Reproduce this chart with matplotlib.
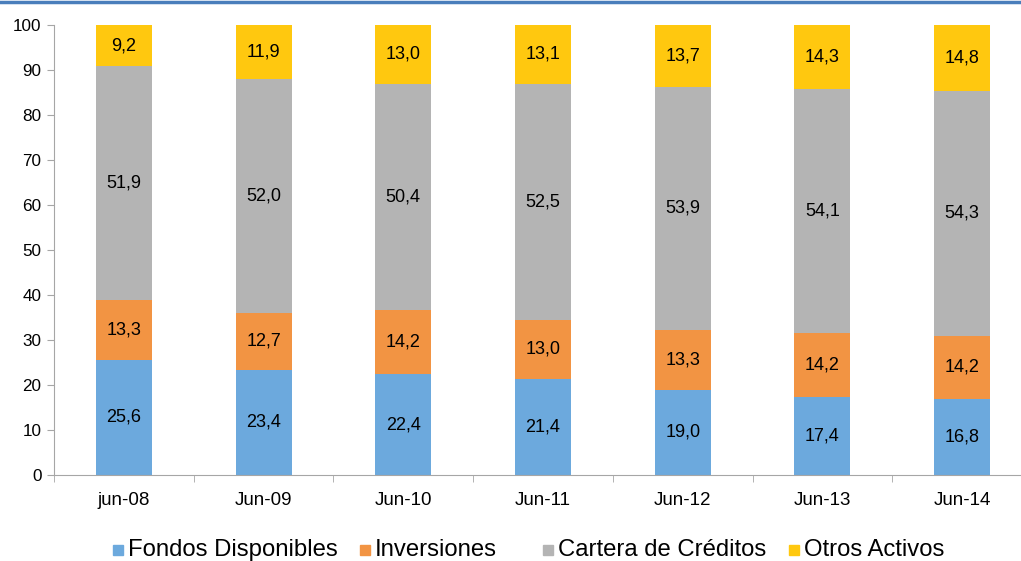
import matplotlib.pyplot as plt
from matplotlib.lines import Line2D
from matplotlib.patches import Rectangle
import numpy as np

plt.rcParams['font.family'] = ['Liberation Sans', 'DejaVu Sans']

periods = ['jun-08', 'Jun-09', 'Jun-10', 'Jun-11', 'Jun-12', 'Jun-13', 'Jun-14']
fondos = [25.6, 23.4, 22.4, 21.4, 19.0, 17.4, 16.8]
inversiones = [13.3, 12.7, 14.2, 13.0, 13.3, 14.2, 14.2]
cartera = [51.9, 52.0, 50.4, 52.5, 53.9, 54.1, 54.3]
otros = [9.2, 11.9, 13.0, 13.1, 13.7, 14.3, 14.8]

names = ['Fondos Disponibles', 'Inversiones', 'Cartera de Créditos', 'Otros Activos']
colors = ['#6CA9DD', '#F29443', '#B4B4B4', '#FFC80F']
values = [fondos, inversiones, cartera, otros]

W, H = 1021, 561
fig = plt.figure(figsize=(W / 100, H / 100), dpi=100)
ax = fig.add_axes([54 / W, 1 - 475 / H, 978 / W, 450 / H])

x = np.arange(len(periods))
bottom = np.zeros(len(periods))
for name, vals, color in zip(names, values, colors):
    vals = np.array(vals)
    ax.bar(x, vals, 0.4, bottom=bottom, color=color, label=name, zorder=2)
    for xi, b, v in zip(x, bottom, vals):
        ax.text(xi, b + v / 2, f'{v:.1f}'.replace('.', ','), ha='center',
                va='center', fontsize=13, color='black')
    bottom += vals

ax.set_xlim(-0.5, len(periods) - 0.5)
ax.set_ylim(0, 100)
ax.set_yticks(range(0, 101, 10))
ax.set_xticks(x)
ax.set_xticklabels(periods)
ax.set_xticks(np.arange(-0.5, len(periods), 1), minor=True)
ax.tick_params(axis='x', which='major', length=0, pad=12, labelsize=13.5)
ax.tick_params(axis='x', which='minor', length=5, color='#A6A6A6')
ax.tick_params(axis='y', length=5, color='#A6A6A6', labelsize=12.3, pad=4)

for side in ['top', 'right']:
    ax.spines[side].set_visible(False)
for side in ['left', 'bottom']:
    ax.spines[side].set_color('#A6A6A6')

# legend laid out by hand: square swatch followed by its label
legend_x = [113, 360, 543, 789]
legend_y = 550
for lx, name, color in zip(legend_x, names, colors):
    fig.add_artist(Rectangle((lx / W, (H - legend_y - 5) / H), 10 / W, 10 / H,
                             color=color, transform=fig.transFigure))
    fig.text((lx + 15) / W, (H - legend_y) / H, name, fontsize=17.2,
             ha='left', va='center')

# thin rule across the top edge
fig.add_artist(Line2D([0, 1], [0.997, 0.997], color='#4A7EBB', lw=2.5,
                      transform=fig.transFigure))

fig.savefig('out.png', dpi=100)
